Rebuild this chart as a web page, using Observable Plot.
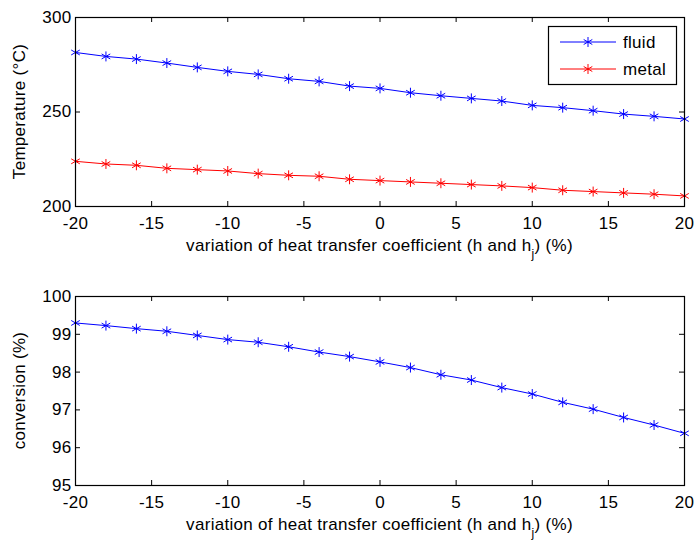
<!DOCTYPE html>
<html>
<head>
<meta charset="utf-8">
<script src="https://cdn.jsdelivr.net/npm/d3@7"></script>
<script src="https://cdn.jsdelivr.net/npm/@observablehq/plot@0.6"></script>
<style>
  html, body { margin: 0; padding: 0; background: #fff; }
  #chart { width: 696px; height: 544px; }
  #chart svg { display: block; }
</style>
</head>
<body>
<div id="chart"></div>
<script>
// ---------- data ----------
const variation = [-20, -18, -16, -14, -12, -10, -8, -6, -4, -2, 0, 2, 4, 6, 8, 10, 12, 14, 16, 18, 20];
const fluidTemp = [281.5, 279.4, 278.0, 275.9, 273.6, 271.5, 269.9, 267.6, 266.2, 263.7, 262.5, 260.2, 258.6, 257.2, 255.8, 253.5, 252.3, 250.7, 248.9, 247.7, 246.3];
const metalTemp = [223.9, 222.5, 221.8, 220.2, 219.5, 218.8, 217.4, 216.5, 216.0, 214.4, 213.7, 213.0, 212.3, 211.6, 210.9, 210.0, 208.6, 207.9, 207.2, 206.5, 205.6];
const conversion = [99.30, 99.23, 99.15, 99.08, 98.97, 98.86, 98.79, 98.67, 98.53, 98.41, 98.27, 98.12, 97.93, 97.79, 97.59, 97.42, 97.20, 97.02, 96.80, 96.60, 96.38];
const seriesNames = ["fluid", "metal"];
const seriesColors = ["#0000ff", "#ff0000"];
const xTicks = [-20, -15, -10, -5, 0, 5, 10, 15, 20];
const tempTicks = [200, 250, 300];
const convTicks = [95, 96, 97, 98, 99, 100];
const xLabelMain = "variation of heat transfer coefficient (h and h";
const xLabelSub = "j";
const xLabelEnd = ") (%)";
const tempLabel = "Temperature (°C)";
const convLabel = "conversion (%)";

// ---------- tables ----------
const tempRows = [];
variation.forEach((v, i) => {
  tempRows.push({variation: v, temperature: fluidTemp[i], series: seriesNames[0]});
});
variation.forEach((v, i) => {
  tempRows.push({variation: v, temperature: metalTemp[i], series: seriesNames[1]});
});
const convRows = variation.map((v, i) => ({variation: v, conversion: conversion[i]}));

// ---------- layout ----------
const FONT = "'Liberation Sans', Arial, Helvetica, sans-serif";
const W = 696, ML = 75, MR = 12, PH = 189, PW = W - ML - MR;
const TICK = 5, MARKER_R = 4.7;

function panel({height, marginTop, yDomain, yTicks, marks}) {
  return Plot.plot({
    width: W,
    height,
    marginLeft: ML,
    marginRight: MR,
    marginTop,
    marginBottom: height - marginTop - PH,
    style: {fontFamily: FONT, fontSize: "17px", color: "#000", background: "#fff", overflow: "visible", letterSpacing: "0.3px"},
    x: {domain: [-20, 20]},
    y: {domain: yDomain},
    color: {domain: seriesNames, range: seriesColors},
    marks: [
      // inward ticks on all four sides (MATLAB style)
      Plot.ruleX(xTicks, {x: d => d, insetTop: PH - TICK, stroke: "#000"}),
      Plot.ruleX(xTicks, {x: d => d, insetBottom: PH - TICK, stroke: "#000"}),
      Plot.ruleY(yTicks, {y: d => d, insetRight: PW - TICK, stroke: "#000"}),
      Plot.ruleY(yTicks, {y: d => d, insetLeft: PW - TICK, stroke: "#000"}),
      Plot.axisX(xTicks, {tickSize: 0, tickPadding: 10, tickFormat: d => String(d), label: null}),
      Plot.axisY(yTicks, {tickSize: 0, tickPadding: 4, tickFormat: d => String(d), label: null}),
      ...marks,
      Plot.frame({stroke: "#000", strokeWidth: 1.2})
    ]
  });
}

function addXLabel(svg, marginTop) {
  const t = d3.select(svg).append("text")
    .attr("x", ML + PW / 2)
    .attr("y", marginTop + PH + 45)
    .attr("text-anchor", "middle")
    .attr("fill", "#000")
    .style("font-family", FONT)
    .style("font-size", "17px");
  t.append("tspan").text(xLabelMain);
  t.append("tspan").attr("dy", 7).style("font-size", "12px").text(xLabelSub);
  t.append("tspan").attr("dy", -7).text(xLabelEnd);
}

function addYLabel(svg, marginTop, label) {
  d3.select(svg).append("text")
    .attr("transform", `translate(25,${marginTop + PH / 2}) rotate(-90)`)
    .attr("text-anchor", "middle")
    .attr("fill", "#000")
    .style("font-family", FONT)
    .style("font-size", "17px")
    .text(label);
}

// ---------- top panel ----------
const topMargin = 17;
const topSvg = panel({
  height: 270,
  marginTop: topMargin,
  yDomain: [200, 300],
  yTicks: tempTicks,
  marks: [
    Plot.line(tempRows, {x: "variation", y: "temperature", z: "series", stroke: "series", strokeWidth: 1}),
    Plot.dot(tempRows, {x: "variation", y: "temperature", stroke: "series", symbol: "asterisk", r: MARKER_R, strokeWidth: 1})
  ]
});
addXLabel(topSvg, topMargin);
addYLabel(topSvg, topMargin, tempLabel);

// legend
{
  const g = d3.select(topSvg).append("g");
  g.append("rect").attr("x", 548.5).attr("y", 26.5).attr("width", 128).attr("height", 58)
    .attr("fill", "#fff").attr("stroke", "#000").attr("stroke-width", 1.2);
  seriesNames.forEach((name, i) => {
    const y = 42 + i * 27;
    g.append("line").attr("x1", 560).attr("x2", 616).attr("y1", y).attr("y2", y)
      .attr("stroke", seriesColors[i]).attr("stroke-width", 1);
    g.append("path").attr("transform", `translate(588,${y})`)
      .attr("d", d3.symbol(d3.symbolAsterisk, Math.PI * MARKER_R * MARKER_R)())
      .attr("fill", "none").attr("stroke", seriesColors[i]).attr("stroke-width", 1);
    g.append("text").attr("x", 623).attr("y", y).attr("dy", "0.35em")
      .attr("text-anchor", "start")
      .attr("fill", "#000")
      .style("font-family", FONT).style("font-size", "17px").style("letter-spacing", "0.3px")
      .text(name);
  });
}

// ---------- bottom panel ----------
const botMargin = 26;
const bottomSvg = panel({
  height: 274,
  marginTop: botMargin,
  yDomain: [95, 100],
  yTicks: convTicks,
  marks: [
    Plot.line(convRows, {x: "variation", y: "conversion", stroke: seriesColors[0], strokeWidth: 1}),
    Plot.dot(convRows, {x: "variation", y: "conversion", stroke: seriesColors[0], symbol: "asterisk", r: MARKER_R, strokeWidth: 1})
  ]
});
addXLabel(bottomSvg, botMargin);
addYLabel(bottomSvg, botMargin, convLabel);

const chart = document.getElementById("chart");
chart.appendChild(topSvg);
chart.appendChild(bottomSvg);
</script>
</body>
</html>
